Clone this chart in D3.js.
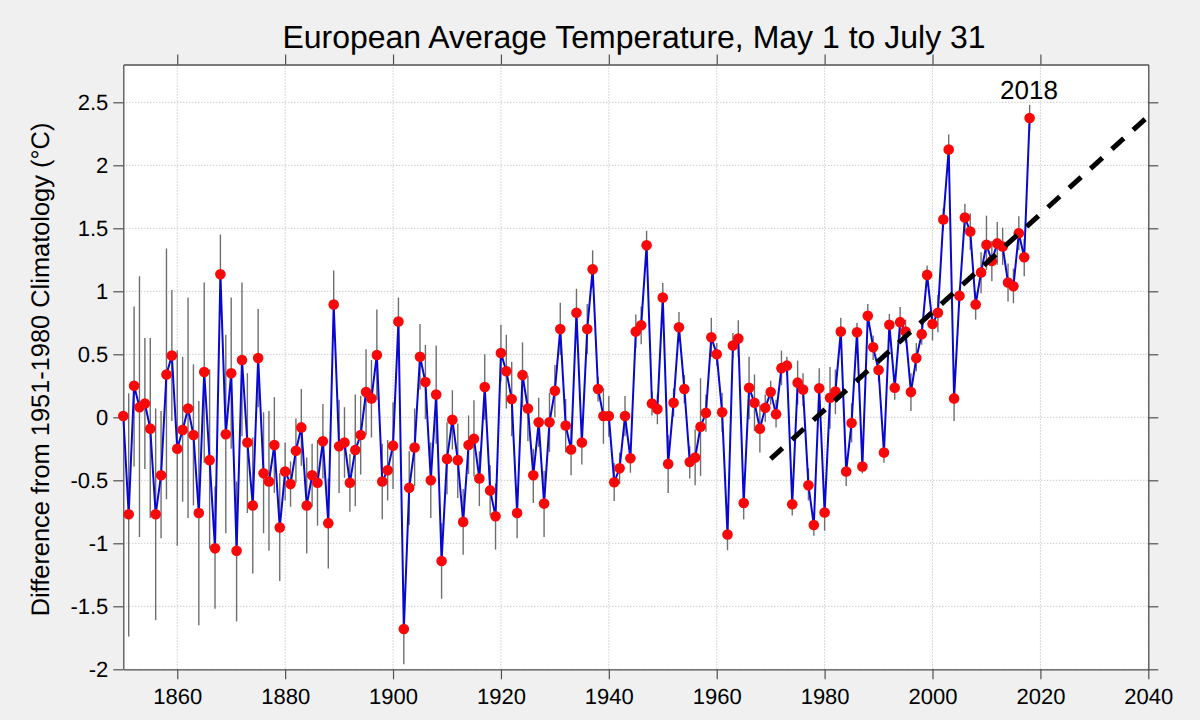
<!DOCTYPE html>
<html>
<head>
<meta charset="utf-8">
<script src="https://cdn.jsdelivr.net/npm/d3@7"></script>
<style>
    html, body { margin: 0; padding: 0; background: #f0f0f0; }
    svg { display: block; font-family: "Liberation Sans", Arial, sans-serif; text-rendering: geometricPrecision; }
</style>
</head>
<body>
<div id="chart"></div>
<script>
// anomaly per year, starting 1850, one row per decade
const firstYear = 1850;
const temps = [
    0.01, -0.77, 0.25, 0.08, 0.11, -0.09, -0.77, -0.46, 0.34, 0.49,
    -0.25, -0.10, 0.07, -0.14, -0.76, 0.36, -0.34, -1.04, 1.135, -0.135,
    0.35, -1.06, 0.455, -0.20, -0.70, 0.47, -0.445, -0.51, -0.22, -0.875,
    -0.43, -0.53, -0.265, -0.08, -0.70, -0.46, -0.52, -0.19, -0.84, 0.895,
    -0.23, -0.20, -0.52, -0.26, -0.14, 0.20, 0.15, 0.495, -0.51, -0.42,
    -0.225, 0.76, -1.68, -0.56, -0.24, 0.48, 0.28, -0.50, 0.18, -1.14,
    -0.33, -0.02, -0.34, -0.83, -0.22, -0.17, -0.485, 0.24, -0.58, -0.785,
    0.51, 0.365, 0.145, -0.76, 0.335, 0.07, -0.46, -0.04, -0.685, -0.04,
    0.21, 0.70, -0.065, -0.255, 0.83, -0.20, 0.70, 1.175, 0.225, 0.01,
    0.01, -0.515, -0.405, 0.01, -0.325, 0.68, 0.73, 1.365, 0.11, 0.065,
    0.95, -0.37, 0.115, 0.715, 0.225, -0.355, -0.32, -0.075, 0.035, 0.635,
    0.50, 0.04, -0.93, 0.57, 0.625, -0.68, 0.235, 0.115, -0.09, 0.075,
    0.20, 0.025, 0.39, 0.41, -0.69, 0.275, 0.22, -0.54, -0.855, 0.23,
    -0.755, 0.155, 0.205, 0.68, -0.43, -0.045, 0.675, -0.39, 0.805, 0.555,
    0.375, -0.28, 0.735, 0.235, 0.755, 0.68, 0.20, 0.47, 0.66, 1.13,
    0.74, 0.83, 1.57, 2.125, 0.15, 0.965, 1.585, 1.475, 0.895, 1.15,
    1.37, 1.24, 1.38, 1.355, 1.07, 1.04, 1.46, 1.27, 2.375
];
const errTop = [
    0.02, 0.19, 0.88, 1.12, 0.63, 0.63, 0.07, 0.05, 1.34, 1.01,
    0.53, 0.48, 0.95, 0.42, 0.13, 1.07, 0.38, -0.55, 1.45, 0.655,
    0.95, -0.51, 1.07, 0.35, -0.16, 0.86, 0.04, 0.05, 0.16, -0.445,
    -0.20, -0.35, -0.01, 0.225, -0.32, -0.21, -0.18, 0.105, -0.485, 1.165,
    0.14, 0.08, -0.29, 0.18, 0.17, 0.54, 0.455, 0.855, -0.21, -0.18,
    0.12, 0.95, -1.41, -0.27, 0.07, 0.74, 0.575, -0.20, 0.57, -0.84,
    -0.04, 0.215, -0.05, -0.57, 0.015, 0.135, -0.27, 0.50, -0.38, -0.525,
    0.735, 0.655, 0.44, -0.56, 0.595, 0.33, -0.25, 0.155, -0.425, 0.195,
    0.415, 0.91, 0.145, -0.06, 1.02, -0.02, 0.90, 1.325, 0.32, 0.23,
    0.17, -0.365, -0.28, 0.17, -0.21, 0.815, 0.88, 1.48, 0.205, 0.18,
    1.065, -0.14, 0.23, 0.835, 0.335, -0.23, -0.095, 0.31, 0.18, 0.79,
    0.59, 0.195, -0.80, 0.67, 0.77, -0.55, 0.48, 0.34, 0.10, 0.18,
    0.29, 0.14, 0.53, 0.48, -0.60, 0.45, 0.35, -0.405, -0.765, 0.39,
    -0.60, 0.40, 0.38, 0.79, -0.33, 0.11, 0.75, -0.29, 0.90, 0.65,
    0.47, -0.195, 0.82, 0.32, 0.875, 0.775, 0.35, 0.59, 0.75, 1.205,
    0.83, 0.97, 1.66, 2.245, 0.335, 1.03, 1.695, 1.62, 1.0, 1.31,
    1.60, 1.40, 1.55, 1.505, 1.22, 1.18, 1.595, 1.415, 2.48
];
const errBottom = [
    0.0, -1.74, -0.39, -0.95, -0.41, -0.80, -1.61, -0.96, -0.65, -0.03,
    -1.02, -0.67, -0.80, -0.70, -1.65, -0.36, -1.04, -1.52, 0.82, -0.92,
    -0.25, -1.62, -0.15, -0.76, -1.24, 0.08, -0.92, -1.06, -0.60, -1.30,
    -0.66, -0.71, -0.52, -0.385, -1.08, -0.71, -0.86, -0.485, -1.20, 0.63,
    -0.60, -0.48, -0.75, -0.705, -0.455, -0.14, -0.16, 0.14, -0.81, -0.66,
    -0.57, 0.57, -1.96, -0.855, -0.545, 0.22, -0.015, -0.80, -0.21, -1.44,
    -0.61, -0.255, -0.64, -1.09, -0.45, -0.47, -0.705, -0.02, -0.78, -1.05,
    0.285, 0.07, -0.15, -0.96, 0.08, -0.19, -0.68, -0.235, -0.95, -0.275,
    0.0, 0.495, -0.28, -0.46, 0.635, -0.375, 0.50, 1.03, 0.125, -0.21,
    -0.155, -0.665, -0.53, -0.15, -0.44, 0.55, 0.58, 1.25, 0.015, -0.055,
    0.835, -0.60, 0.005, 0.595, 0.11, -0.485, -0.54, -0.465, -0.115, 0.48,
    0.41, -0.115, -1.055, 0.47, 0.48, -0.81, -0.015, -0.11, -0.28, -0.035,
    0.10, -0.08, 0.255, 0.335, -0.78, 0.10, 0.09, -0.66, -0.94, 0.07,
    -0.90, -0.09, 0.025, 0.575, -0.545, -0.20, 0.575, -0.445, 0.715, 0.455,
    0.285, -0.36, 0.645, 0.14, 0.635, 0.59, 0.05, 0.365, 0.575, 1.04,
    0.61, 0.675, 1.48, 2.01, -0.03, 0.90, 1.48, 1.33, 0.775, 0.985,
    1.17, 1.08, 1.21, 1.21, 0.92, 0.905, 1.325, 1.12, 2.27
];
const trendYears = [1970, 2040];
const trendValues = [-0.33, 2.39];
const xTicks = [1860, 1880, 1900, 1920, 1940, 1960, 1980, 2000, 2020, 2040];
const xTicksTop = [1860, 1880, 1900, 1920, 1940, 1960, 1980, 2000, 2020];
const yTicks = [-2, -1.5, -1, -0.5, 0, 0.5, 1, 1.5, 2, 2.5];

const titleText = "European Average Temperature, May 1 to July 31";
const yLabelText = "Difference from 1951-1980 Climatology (°C)";
const markedYear = "2018";

const margin = {top: 64.5, right: 51.7, bottom: 50.7, left: 123.3};
const width = 1200 - margin.left - margin.right;
const height = 720 - margin.top - margin.bottom;

const axisColor = "#505050";
const gridColor = "#b4b4b4";

const svg = d3.select("#chart").append("svg")
    .attr("width", 1200)
    .attr("height", 720);

svg.append("rect")
    .attr("width", 1200)
    .attr("height", 720)
    .attr("fill", "#f0f0f0");

const g = svg.append("g")
    .attr("transform", `translate(${margin.left},${margin.top})`);

const x = d3.scaleLinear().domain([1850, 2040]).range([0, width]);
const y = d3.scaleLinear().domain([-2, 2.8]).range([height, 0]);

g.append("rect")
    .attr("width", width)
    .attr("height", height)
    .attr("fill", "#fff");

// grid
g.append("g").selectAll("line")
    .data(xTicks)
    .enter().append("line")
    .attr("x1", d => x(d)).attr("x2", d => x(d))
    .attr("y1", 0).attr("y2", height)
    .attr("stroke", gridColor).attr("stroke-width", 1).attr("stroke-dasharray", "1,2");

g.append("g").selectAll("line")
    .data(yTicks)
    .enter().append("line")
    .attr("x1", 0).attr("x2", width)
    .attr("y1", d => y(d)).attr("y2", d => y(d))
    .attr("stroke", gridColor).attr("stroke-width", 1).attr("stroke-dasharray", "1,2");

// axes, ticks point outward on all four sides
function styleAxis(sel) {
    sel.selectAll(".domain").attr("stroke", axisColor).attr("stroke-width", 1.3);
    sel.selectAll(".tick line").attr("stroke", axisColor).attr("stroke-width", 1.2);
    sel.selectAll("text").attr("fill", "#000").style("font-size", "22px")
        .style("font-family", '"Liberation Sans", Arial, sans-serif');
}

g.append("g")
    .attr("transform", `translate(0,${height})`)
    .call(d3.axisBottom(x).tickValues(xTicks).tickFormat(d3.format("d")).tickSize(10).tickSizeOuter(0).tickPadding(9))
    .call(styleAxis);
g.append("g")
    .call(d3.axisLeft(y).tickValues(yTicks).tickFormat(d => String(d)).tickSize(10).tickSizeOuter(0).tickPadding(5))
    .call(styleAxis);
g.append("g")
    .call(d3.axisTop(x).tickValues(xTicksTop).tickFormat("").tickSize(10).tickSizeOuter(0))
    .call(styleAxis);
g.append("g")
    .attr("transform", `translate(${width},0)`)
    .call(d3.axisRight(y).tickValues(yTicks).tickFormat("").tickSize(10).tickSizeOuter(0))
    .call(styleAxis);

const points = temps.map((t, i) => ({year: firstYear + i, t: t, top: errTop[i], bottom: errBottom[i]}));

// error bars
g.append("g").selectAll("line")
    .data(points)
    .enter().append("line")
    .attr("x1", d => x(d.year)).attr("x2", d => x(d.year))
    .attr("y1", d => y(d.top)).attr("y2", d => y(d.bottom))
    .attr("stroke", "#6e6e6e").attr("stroke-width", 1.4);

const line = d3.line().x(d => x(d.year)).y(d => y(d.t));

g.append("path")
    .datum(points)
    .attr("d", line)
    .attr("fill", "none")
    .attr("stroke", "#0808d0")
    .attr("stroke-width", 2);

g.append("g").selectAll("circle")
    .data(points)
    .enter().append("circle")
    .attr("cx", d => x(d.year))
    .attr("cy", d => y(d.t))
    .attr("r", 5.3)
    .attr("fill", "#f80808");

// trend
g.append("line")
    .attr("x1", x(trendYears[0])).attr("y1", y(trendValues[0]))
    .attr("x2", x(trendYears[1])).attr("y2", y(trendValues[1]))
    .attr("stroke", "#000")
    .attr("stroke-width", 5)
    .attr("stroke-dasharray", "16,12.8");

// text
svg.append("text")
    .attr("x", 634).attr("y", 48)
    .attr("text-anchor", "middle")
    .style("font-size", "32px")
    .text(titleText);

svg.append("text")
    .attr("transform", "translate(49,369.5) rotate(-90)")
    .attr("text-anchor", "middle")
    .style("font-size", "25.4px")
    .text(yLabelText);

svg.append("text")
    .attr("x", 1029).attr("y", 99)
    .attr("text-anchor", "middle")
    .style("font-size", "26px")
    .text(markedYear);
</script>
</body>
</html>
